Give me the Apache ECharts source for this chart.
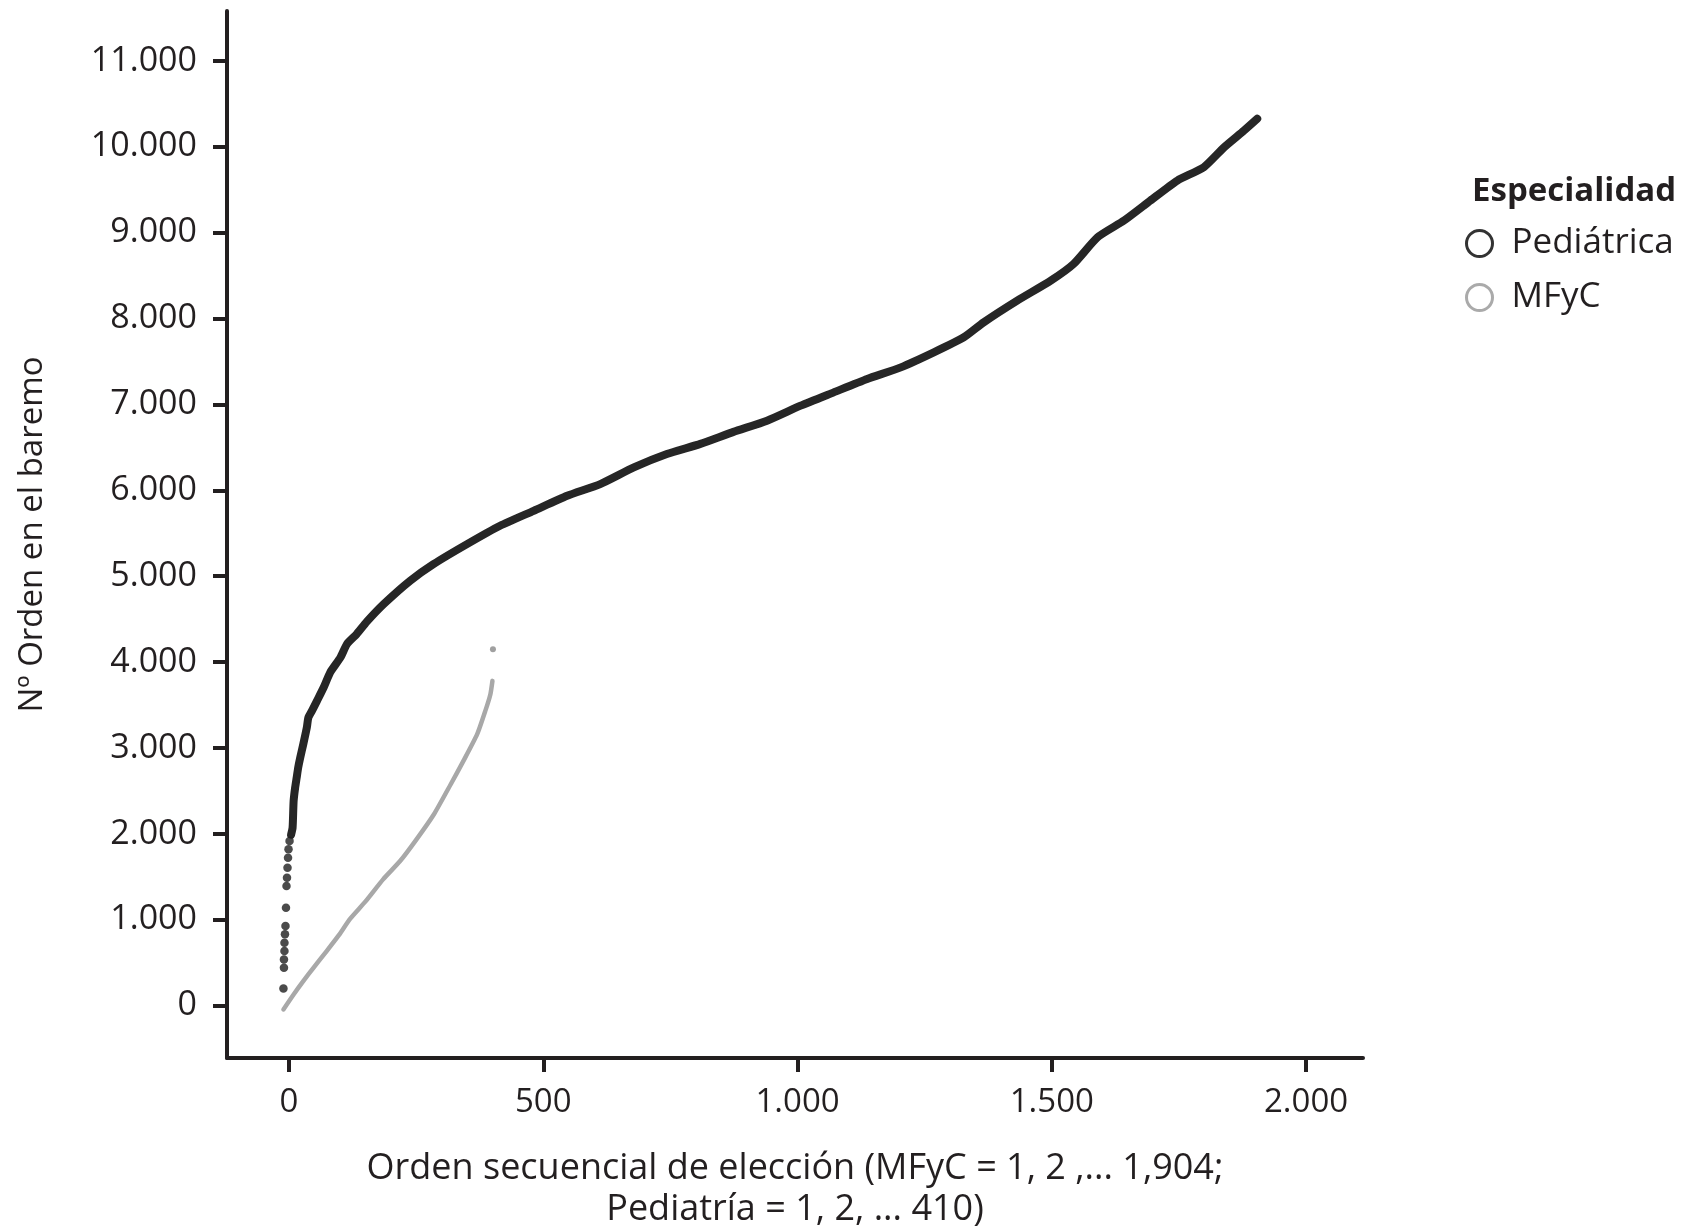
<!DOCTYPE html>
<html><head><meta charset="utf-8">
<script src="https://cdn.jsdelivr.net/npm/echarts@6/dist/echarts.min.js"></script>
<style>html,body{margin:0;padding:0;background:#fff}#c{width:1690px;height:1228px}</style>
</head><body><div id="c"></div>
<script>
// Tick values
const xTicks = [0, 500, 1000, 1500, 2000];
const yTicks = [0, 1000, 2000, 3000, 4000, 5000, 6000, 7000, 8000, 9000, 10000, 11000];

// Pediátrica (black): isolated low points
const pedDotsX = [-11, -10, -10, -9, -9, -8, -7, -6, -5, -4, -3, -2, -1, 1];
const pedDotsY = [200, 440, 538, 635, 732, 830, 926, 1140, 1392, 1489, 1606, 1722, 1820, 1917];
// Pediátrica (black): dense part
const pedX = [4, 7, 9, 12, 15, 18, 22, 28, 35, 38, 45, 55, 68, 81, 101, 114, 133, 153, 186, 238,
  284, 350, 415, 481, 547, 612, 678, 743, 809, 874, 940, 1006, 1071, 1137, 1203, 1268, 1327, 1366, 1432, 1498,
  1543, 1590, 1642, 1694, 1747, 1799, 1839, 1878, 1904];
const pedY = [1990, 2072, 2383, 2538, 2654, 2771, 2887, 3043, 3237, 3353, 3431, 3548, 3703, 3880, 4052, 4210, 4325, 4470, 4674, 4946,
  5140, 5373, 5587, 5761, 5936, 6072, 6266, 6422, 6540, 6680, 6810, 6985, 7140, 7296, 7431, 7606, 7781, 7955, 8208, 8441,
  8636, 8946, 9140, 9373, 9606, 9761, 9994, 10188, 10325];

// MFyC (gray)
const mfycX = [-11, 9, 28, 48, 74, 98, 120, 150, 185, 218, 250, 285, 318, 343, 370, 386, 396, 400];
const mfycY = [-44, 130, 285, 440, 635, 820, 1010, 1210, 1470, 1680, 1930, 2228, 2577, 2849, 3160, 3431, 3626, 3781];
const mfycDotX = [401];
const mfycDotY = [4150];

const zip = (a, b) => a.map((v, i) => [v, b[i]]);
const fmt = v => String(v).replace(/\B(?=(\d{3})+(?!\d))/g, '.');

const INK = '#231f20';
const FONT = 'Open Sans';
const BLACK = '#262626';
const GRAY = '#a8a8a8';

const chart = echarts.init(document.getElementById('c'), null, {renderer: 'canvas'});
chart.setOption({
  animation: false,
  backgroundColor: '#fff',
  title: {
    text: 'Especialidad', left: 1467, top: 170,
    textStyle: {fontFamily: FONT, fontWeight: 'bold', fontSize: 33, color: INK}
  },
  legend: {
    orient: 'vertical', left: 1460, top: 221,
    itemWidth: 26, itemHeight: 26, itemGap: 19,
    textStyle: {fontFamily: FONT, fontSize: 35, fontWeight: 500, color: INK, padding: [0, 0, 0, 14]},
    data: [
      {name: 'Pediátrica', icon: 'circle', itemStyle: {color: '#fff', borderColor: '#333', borderWidth: 3}},
      {name: 'MFyC', icon: 'circle', itemStyle: {color: '#fff', borderColor: '#aaa', borderWidth: 3}}
    ]
  },
  grid: {left: 227, right: 327, top: 11, bottom: 170, containLabel: false, outerBoundsMode: 'none'},
  xAxis: {
    type: 'value', min: -122, max: 2112,
    axisLine: {show: true, onZero: false, lineStyle: {color: INK, width: 4}},
    axisTick: {show: true, length: 14, lineStyle: {color: INK, width: 4}, customValues: xTicks},
    axisLabel: {customValues: xTicks, formatter: fmt, fontFamily: FONT, fontWeight: 500, fontSize: 33, color: INK, margin: 28},
    splitLine: {show: false},
    name: 'Orden secuencial de elección (MFyC = 1, 2 ,... 1,904;\nPediatría = 1, 2, ... 410)',
    nameLocation: 'middle', nameGap: 90,
    nameTextStyle: {fontFamily: FONT, fontWeight: 500, fontSize: 36, color: INK, lineHeight: 41, align: 'center'}
  },
  yAxis: {
    type: 'value', min: -610, max: 11580,
    axisLine: {show: true, onZero: false, lineStyle: {color: INK, width: 4}},
    axisTick: {show: true, length: 14, lineStyle: {color: INK, width: 4}, customValues: yTicks},
    axisLabel: {customValues: yTicks, formatter: fmt, fontFamily: FONT, fontWeight: 500, fontSize: 34, color: INK, margin: 30},
    splitLine: {show: false},
    name: 'Nº Orden en el baremo', nameLocation: 'middle', nameGap: 178, nameRotate: 90,
    nameTextStyle: {fontFamily: FONT, fontWeight: 500, fontSize: 33, color: INK}
  },
  series: [
    {name: 'Pediátrica', type: 'line', data: zip(pedX, pedY), symbol: 'none', smooth: 0.2,
     lineStyle: {color: BLACK, width: 8, cap: 'round', join: 'round'}, itemStyle: {color: BLACK}, z: 3},
    {name: 'Pediátrica', type: 'scatter', data: zip(pedDotsX, pedDotsY), symbolSize: 8.5,
     itemStyle: {color: '#1e1e1e'}, z: 3},
    {name: 'MFyC', type: 'line', data: zip(mfycX, mfycY), symbol: 'none', smooth: 0.2,
     lineStyle: {color: GRAY, width: 4.5, cap: 'round', join: 'round'}, itemStyle: {color: GRAY}, z: 2},
    {name: 'MFyC', type: 'scatter', data: zip(mfycDotX, mfycDotY), symbolSize: 6,
     itemStyle: {color: '#888'}, z: 2}
  ]
});
</script>
</body></html>
